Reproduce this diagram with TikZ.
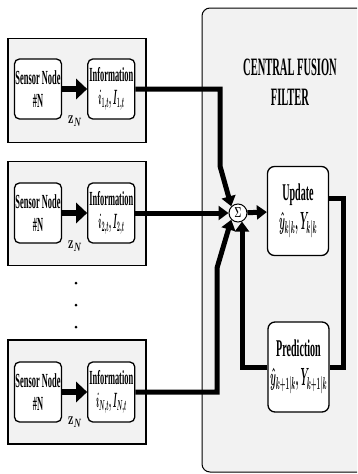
\documentclass[tikz,border=0pt]{standalone}
\usepackage{fontspec}
\setmainfont{Liberation Serif}[FakeStretch=0.42]
\usepackage{graphicx}
\usetikzlibrary{arrows.meta, positioning}

\newcommand{\slim}[2][0.38]{\scalebox{#1}[1]{\boldmath#2}}

\begin{document}
\begin{tikzpicture}[x=1pt, y=-1pt,
  grpbox/.style={draw, line width=1.5pt, fill=gray!10, minimum width=138pt, minimum height=104pt},
  innode/.style={draw, line width=1.3pt, rounded corners=5pt, fill=white, align=center, minimum width=47pt, minimum height=60pt, inner sep=1pt, font=\fontsize{20}{23}\selectfont\bfseries},
  filtnode/.style={draw, line width=1.3pt, rounded corners=7pt, fill=white, align=center, minimum width=61pt, minimum height=89pt, inner sep=1pt, font=\fontsize{24}{29}\selectfont\bfseries},
  zlabel/.style={font=\fontsize{17}{18}\selectfont},
  bigflow/.style={line width=6.5pt, -{Triangle[length=11pt, width=20pt]}},
  feed/.style={line width=5pt, -{Triangle[length=10pt, width=14pt]}},
  link/.style={line width=5pt}]
\clip (0,0) rectangle (357,474);

% Filtro central
\node (fusion) at (287,240) [draw, line width=1pt, rounded corners=8pt, fill=gray!10, minimum width=170pt, minimum height=464pt] {};
\node (title) at (290,82) [font=\fontsize{25}{30}\selectfont\bfseries, align=center] {CENTRAL FUSION\\FILTER};

% Sensor 1
\node (grp1) at (77,90.5) [grpbox] {};
\node (sens1) at (38,89) [innode] {Sensor Node\\\#N};
\node (info1) [right=25pt of sens1, innode] {Information\\\slim{$i_{1,t}, I_{1,t}$}};
\node (z1) at (75,121) [zlabel] {\slim[0.62]{$\mathbf{z}_N$}};
\draw[bigflow] (sens1) -- (info1);

% Sensor 2
\node (grp2) at (77,213.5) [grpbox] {};
\node (sens2) at (38,213) [innode] {Sensor Node\\\#N};
\node (info2) [right=25pt of sens2, innode] {Information\\\slim{$i_{2,t}, I_{2,t}$}};
\node (z2) at (75,246) [zlabel] {\slim[0.62]{$\mathbf{z}_N$}};
\draw[bigflow] (sens2) -- (info2);

% Puntos
\foreach \y in {283,305,327} \fill (76,\y) circle (1.5pt);

% Sensor N
\node (grp3) at (77,392) [grpbox] {};
\node (sens3) at (38,392) [innode] {Sensor Node\\\#N};
\node (info3) [right=25pt of sens3, innode] {Information\\\slim{$i_{N,t}, I_{N,t}$}};
\node (z3) at (75,422) [zlabel] {\slim[0.62]{$\mathbf{z}_N$}};
\draw[bigflow] (sens3) -- (info3);

% Suma, actualizacion y prediccion
\node (sum) at (238,213) [draw, circle, line width=1pt, fill=white, minimum size=18pt, inner sep=0pt, font=\fontsize{15}{16}\selectfont] {\slim[0.6]{$\Sigma$}};
\node (upd) at (298,211) [filtnode] {Update\\\slim{$\hat{y}_{k|k}, Y_{k|k}$}};
\node (pred) at (298.5,367) [filtnode, minimum height=90pt] {Prediction\\\slim{$\hat{y}_{k+1|k}, Y_{k+1|k}$}};

% Conexiones
\coordinate (k1) at (220,166);
\coordinate (k3) at (217,268);
\coordinate (k4) at (343,367);
\draw[feed] (info1.east) -| (k1) -- (sum.north west);
\draw[feed] (info2) -- (sum);
\draw[feed] (info3.east) -| (k3) -- (sum.south west);
\draw[feed] (sum) -- (upd);
\draw[link] ([yshift=13pt]upd.east) -| (k4) -- (pred.east);
\draw[feed] (pred.west) -| (sum.-65);
\end{tikzpicture}
\end{document}
